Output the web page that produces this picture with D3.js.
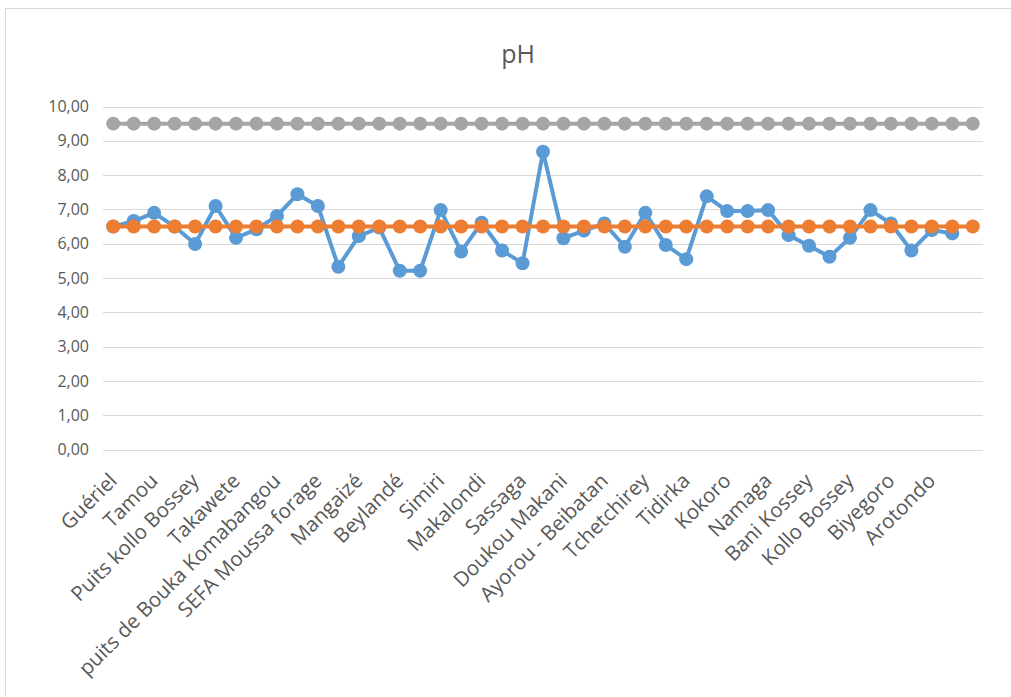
<!doctype html>
<html>
<head>
  <meta charset="utf-8">
  <title>pH</title>
  <script src="https://d3js.org/d3.v7.min.js"></script>
  <style>
    body { margin: 0; background: #fff; }
    text { font-family: 'Open Sans', sans-serif; fill: #595959; }
  </style>
</head>
<body>
  <svg width="1011" height="697"></svg>
  <script>
    // categories: only every other one is labelled on the axis
    var sites = ["Guériel", "", "Tamou", "", "Puits kollo Bossey", "", "Takawete", "",
      "puits de Bouka Komabangou", "", "SEFA Moussa forage", "", "Mangaizé", "", "Beylandé", "",
      "Simiri", "", "Makalondi", "", "Sassaga", "", "Doukou Makani", "", "Ayorou - Beibatan", "",
      "Tchetchirey", "", "Tidirka", "", "Kokoro", "", "Namaga", "", "Bani Kossey", "",
      "Kollo Bossey", "", "Biyegoro", "", "Arotondo", "", ""];

    var phMeasured = [6.50, 6.66, 6.90, 6.50, 5.99, 7.10, 6.17, 6.42, 6.81, 7.44, 7.10, 5.33,
      6.22, 6.47, 5.21, 5.21, 6.98, 5.77, 6.61, 5.80, 5.43, 8.68, 6.16, 6.38, 6.59, 5.91,
      6.90, 5.96, 5.55, 7.38, 6.95, 6.95, 6.98, 6.25, 5.94, 5.62, 6.17, 6.98, 6.59, 5.80,
      6.40, 6.30, null];

    var phMin = [6.5, 6.5, 6.5, 6.5, 6.5, 6.5, 6.5, 6.5, 6.5, 6.5, 6.5, 6.5, 6.5, 6.5, 6.5,
      6.5, 6.5, 6.5, 6.5, 6.5, 6.5, 6.5, 6.5, 6.5, 6.5, 6.5, 6.5, 6.5, 6.5, 6.5, 6.5, 6.5,
      6.5, 6.5, 6.5, 6.5, 6.5, 6.5, 6.5, 6.5, 6.5, 6.5, 6.5];

    var phMax = [9.5, 9.5, 9.5, 9.5, 9.5, 9.5, 9.5, 9.5, 9.5, 9.5, 9.5, 9.5, 9.5, 9.5, 9.5,
      9.5, 9.5, 9.5, 9.5, 9.5, 9.5, 9.5, 9.5, 9.5, 9.5, 9.5, 9.5, 9.5, 9.5, 9.5, 9.5, 9.5,
      9.5, 9.5, 9.5, 9.5, 9.5, 9.5, 9.5, 9.5, 9.5, 9.5, 9.5];

    var yTicks = [0, 1, 2, 3, 4, 5, 6, 7, 8, 9, 10];

    var svg = d3.select("svg");
    var plotLeft = 103, plotRight = 983, plotTop = 106.5, plotBottom = 449.5;

    // chart frame (only top/left visible in the picture)
    svg.append("rect")
      .attr("x", 5.5).attr("y", 8.5)
      .attr("width", 1100).attr("height", 800)
      .attr("fill", "none").attr("stroke", "#d9d9d9");

    svg.append("text")
      .attr("x", 518).attr("y", 63)
      .attr("text-anchor", "middle")
      .style("font-size", "25px")
      .text("pH");

    var x = d3.scalePoint()
      .domain(d3.range(sites.length))
      .range([plotLeft, plotRight])
      .padding(0.5);

    var y = d3.scaleLinear().domain([0, 10]).range([plotBottom, plotTop]);

    // gridlines
    svg.append("g")
      .selectAll("line")
      .data(yTicks)
      .enter()
      .append("line")
      .attr("x1", plotLeft).attr("x2", plotRight)
      .attr("y1", d => Math.round(y(d)) + 0.5)
      .attr("y2", d => Math.round(y(d)) + 0.5)
      .attr("stroke", "#d9d9d9")
      .attr("stroke-width", 1);

    var fmt = d => d.toFixed(2).replace(".", ",");
    svg.append("g")
      .selectAll("text")
      .data(yTicks)
      .enter()
      .append("text")
      .attr("x", 89)
      .attr("y", d => y(d))
      .attr("dy", "0.35em")
      .attr("text-anchor", "end")
      .style("font-size", "16px")
      .text(fmt);

    // category labels, rotated
    svg.append("g")
      .selectAll("text")
      .data(sites.map((s, i) => ({ s: s, i: i })).filter(d => d.s !== ""))
      .enter()
      .append("text")
      .attr("transform", d => "translate(" + (x(d.i) + 5) + "," + 482 + ") rotate(-45)")
      .attr("text-anchor", "end")
      .style("font-size", "20.5px")
      .text(d => d.s);

    var series = [
      { vals: phMeasured, color: "#5B9BD5" },
      { vals: phMin, color: "#ED7D31" },
      { vals: phMax, color: "#A5A5A5" }
    ];

    var line = d3.line()
      .defined(d => d.v !== null)
      .x(d => x(d.i))
      .y(d => y(d.v));

    series.forEach(function (s) {
      var pts = s.vals.map((v, i) => ({ v: v, i: i }));
      svg.append("path")
        .datum(pts)
        .attr("d", line)
        .attr("fill", "none")
        .attr("stroke", s.color)
        .attr("stroke-width", 4)
        .attr("stroke-linejoin", "round");
      svg.append("g")
        .selectAll("circle")
        .data(pts.filter(d => d.v !== null))
        .enter()
        .append("circle")
        .attr("cx", d => x(d.i))
        .attr("cy", d => y(d.v))
        .attr("r", 7)
        .attr("fill", s.color);
    });
  </script>
</body>
</html>
